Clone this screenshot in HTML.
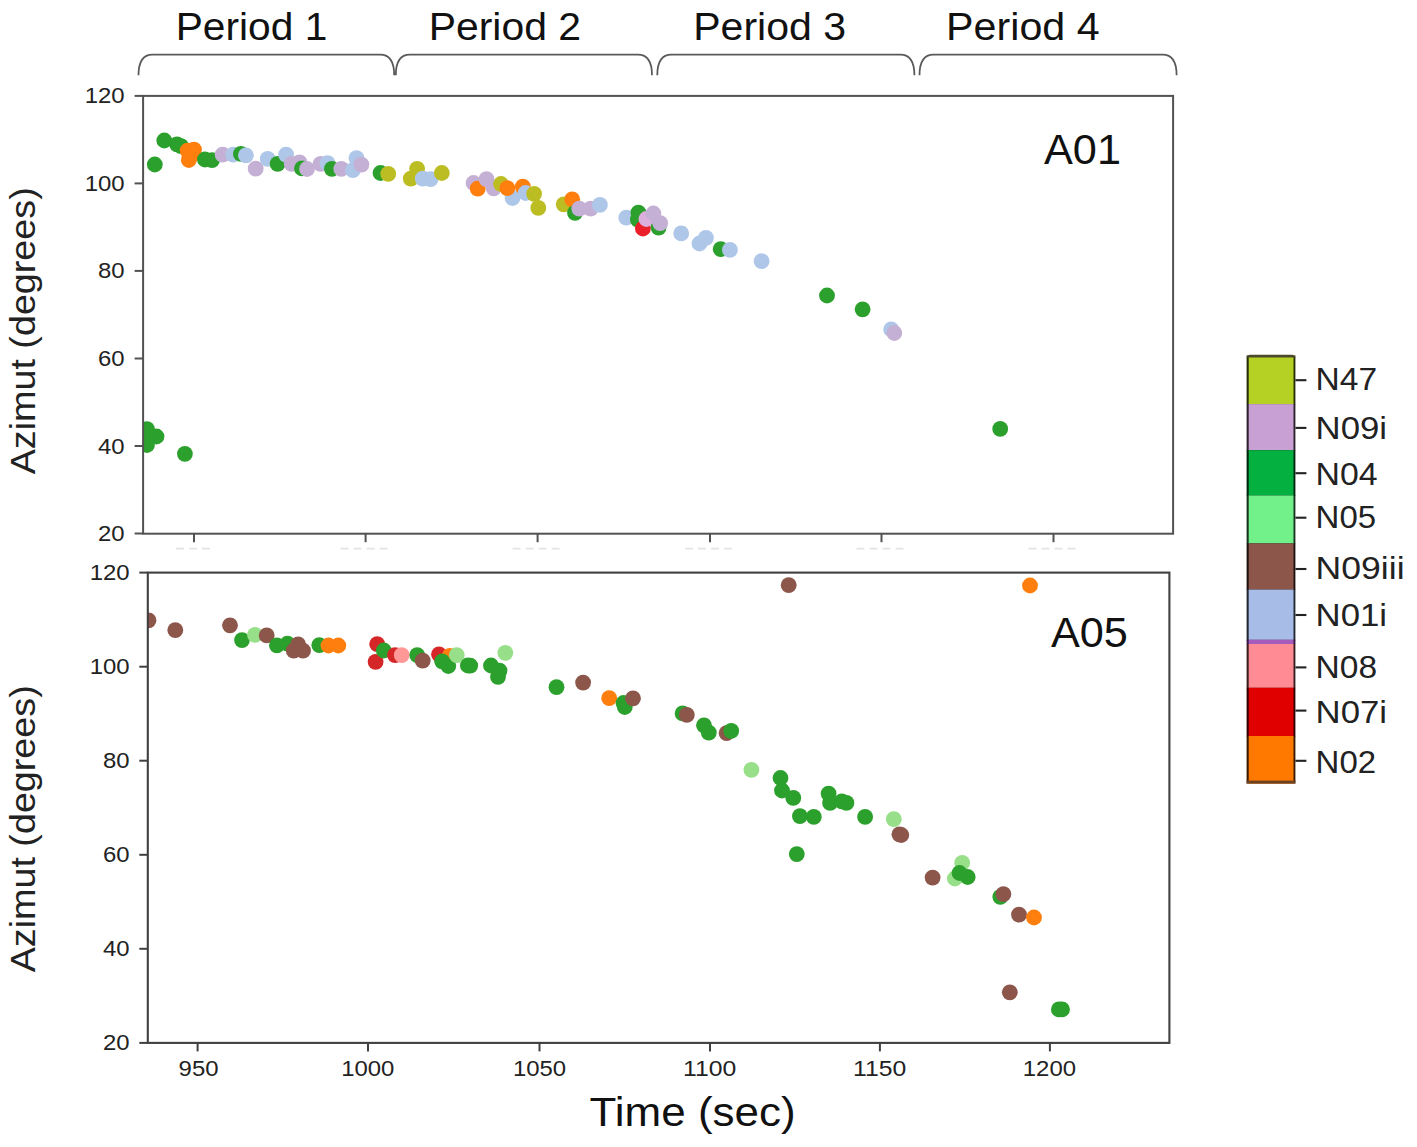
<!DOCTYPE html>
<html><head><meta charset="utf-8"><title>Azimut vs Time</title>
<style>html,body{margin:0;padding:0;background:#fff;}body{width:1417px;height:1147px;overflow:hidden;font-family:"Liberation Sans",sans-serif;}svg{display:block}</style>
</head><body>
<svg width="1417" height="1147" viewBox="0 0 1417 1147" font-family="'Liberation Sans', sans-serif">
<rect width="1417" height="1147" fill="#ffffff"/>
<defs><clipPath id="ct"><rect x="143.1" y="95.9" width="1030.0" height="437.80000000000007"/></clipPath><clipPath id="cb"><rect x="147.8" y="572.6" width="1021.6000000000001" height="470.30000000000007"/></clipPath></defs>
<text x="175.7" y="39.7" font-size="39.0" fill="#111" textLength="151.7" lengthAdjust="spacingAndGlyphs">Period 1</text>
<text x="428.7" y="39.7" font-size="39.0" fill="#111" textLength="152.4" lengthAdjust="spacingAndGlyphs">Period 2</text>
<text x="693.2" y="39.7" font-size="39.0" fill="#111" textLength="152.9" lengthAdjust="spacingAndGlyphs">Period 3</text>
<text x="946.1" y="39.7" font-size="39.0" fill="#111" textLength="153.5" lengthAdjust="spacingAndGlyphs">Period 4</text>
<path d="M138.5 75.2 C138.5 62 142.5 54.6 152.5 54.6 L380.2 54.6 C390.2 54.6 394.2 62 394.2 75.2" fill="none" stroke="#5a5a5a" stroke-width="1.8"/>
<path d="M395.8 75.2 C395.8 62 399.8 54.6 409.8 54.6 L638.0 54.6 C648.0 54.6 652.0 62 652.0 75.2" fill="none" stroke="#5a5a5a" stroke-width="1.8"/>
<path d="M657.3 75.2 C657.3 62 661.3 54.6 671.3 54.6 L900.4 54.6 C910.4 54.6 914.4 62 914.4 75.2" fill="none" stroke="#5a5a5a" stroke-width="1.8"/>
<path d="M919.5 75.2 C919.5 62 923.5 54.6 933.5 54.6 L1162.6 54.6 C1172.6 54.6 1176.6 62 1176.6 75.2" fill="none" stroke="#5a5a5a" stroke-width="1.8"/>
<g clip-path="url(#ct)">
<circle cx="154.8" cy="164.5" r="7.9" fill="#2ca02c"/>
<circle cx="164.3" cy="140.5" r="7.9" fill="#2ca02c"/>
<circle cx="177" cy="144.3" r="7.9" fill="#2ca02c"/>
<circle cx="181" cy="146.2" r="7.9" fill="#2ca02c"/>
<circle cx="187.6" cy="150.6" r="7.9" fill="#ff7f0e"/>
<circle cx="194.0" cy="149.6" r="7.9" fill="#ff7f0e"/>
<circle cx="192.3" cy="155.0" r="7.9" fill="#ff7f0e"/>
<circle cx="188.8" cy="160.0" r="7.9" fill="#ff7f0e"/>
<circle cx="204.9" cy="159.5" r="7.9" fill="#2ca02c"/>
<circle cx="212" cy="160.2" r="7.9" fill="#2ca02c"/>
<circle cx="222.6" cy="154.6" r="7.9" fill="#c5b0d5"/>
<circle cx="233.2" cy="154.6" r="7.9" fill="#aec7e8"/>
<circle cx="240.9" cy="153.9" r="7.9" fill="#2ca02c"/>
<circle cx="245.9" cy="155.3" r="7.9" fill="#aec7e8"/>
<circle cx="255.7" cy="168.7" r="7.9" fill="#c5b0d5"/>
<circle cx="267.7" cy="158.8" r="7.9" fill="#aec7e8"/>
<circle cx="277.6" cy="163.8" r="7.9" fill="#2ca02c"/>
<circle cx="286.1" cy="154.6" r="7.9" fill="#aec7e8"/>
<circle cx="291.7" cy="163.8" r="7.9" fill="#c5b0d5"/>
<circle cx="299.5" cy="162.3" r="7.9" fill="#c5b0d5"/>
<circle cx="302.0" cy="168.4" r="7.9" fill="#2ca02c"/>
<circle cx="307.0" cy="169.0" r="7.9" fill="#c5b0d5"/>
<circle cx="320.6" cy="163.8" r="7.9" fill="#c5b0d5"/>
<circle cx="327.5" cy="163.2" r="7.9" fill="#aec7e8"/>
<circle cx="331.9" cy="168.8" r="7.9" fill="#2ca02c"/>
<circle cx="341.3" cy="168.8" r="7.9" fill="#c5b0d5"/>
<circle cx="352.9" cy="170.2" r="7.9" fill="#aec7e8"/>
<circle cx="356.5" cy="158.2" r="7.9" fill="#aec7e8"/>
<circle cx="361.4" cy="164.6" r="7.9" fill="#c5b0d5"/>
<circle cx="380.5" cy="173" r="7.9" fill="#2ca02c"/>
<circle cx="388.2" cy="173.8" r="7.9" fill="#bcbd22"/>
<circle cx="410.8" cy="178.7" r="7.9" fill="#bcbd22"/>
<circle cx="417.1" cy="168.8" r="7.9" fill="#bcbd22"/>
<circle cx="422.8" cy="178.7" r="7.9" fill="#aec7e8"/>
<circle cx="430.6" cy="179.1" r="7.9" fill="#aec7e8"/>
<circle cx="441.8" cy="173" r="7.9" fill="#bcbd22"/>
<circle cx="473.5" cy="183.0" r="7.9" fill="#c5b0d5"/>
<circle cx="477.7" cy="188.7" r="7.9" fill="#ff7f0e"/>
<circle cx="486.5" cy="179.1" r="7.9" fill="#c5b0d5"/>
<circle cx="493.6" cy="188.3" r="7.9" fill="#c5b0d5"/>
<circle cx="501.0" cy="184.0" r="7.9" fill="#bcbd22"/>
<circle cx="512.5" cy="198" r="7.9" fill="#aec7e8"/>
<circle cx="507.3" cy="188.1" r="7.9" fill="#ff7f0e"/>
<circle cx="522.8" cy="186.7" r="7.9" fill="#ff7f0e"/>
<circle cx="525.6" cy="193" r="7.9" fill="#aec7e8"/>
<circle cx="534.1" cy="193.8" r="7.9" fill="#bcbd22"/>
<circle cx="538.3" cy="207.9" r="7.9" fill="#bcbd22"/>
<circle cx="563.7" cy="204.3" r="7.9" fill="#bcbd22"/>
<circle cx="572.2" cy="199.4" r="7.9" fill="#ff7f0e"/>
<circle cx="575" cy="212.8" r="7.9" fill="#2ca02c"/>
<circle cx="579.3" cy="208.6" r="7.9" fill="#c5b0d5"/>
<circle cx="590.6" cy="208.6" r="7.9" fill="#c5b0d5"/>
<circle cx="599.9" cy="204.9" r="7.9" fill="#aec7e8"/>
<circle cx="626.3" cy="217.7" r="7.9" fill="#aec7e8"/>
<circle cx="638.4" cy="212.6" r="7.9" fill="#2ca02c"/>
<circle cx="637.9" cy="219.6" r="7.9" fill="#2ca02c"/>
<circle cx="642.9" cy="228.5" r="7.9" fill="#ea1f29"/>
<circle cx="646.4" cy="219.0" r="7.9" fill="#dcaedc"/>
<circle cx="653.4" cy="213.5" r="7.9" fill="#c5b0d5"/>
<circle cx="658.6" cy="227.6" r="7.9" fill="#2ca02c"/>
<circle cx="660.2" cy="223.2" r="7.9" fill="#c5b0d5"/>
<circle cx="681.2" cy="233.4" r="7.9" fill="#aec7e8"/>
<circle cx="699.5" cy="243.5" r="7.9" fill="#aec7e8"/>
<circle cx="705.9" cy="237.9" r="7.9" fill="#aec7e8"/>
<circle cx="720.7" cy="249.2" r="7.9" fill="#2ca02c"/>
<circle cx="729.9" cy="249.9" r="7.9" fill="#aec7e8"/>
<circle cx="761.6" cy="261.2" r="7.9" fill="#aec7e8"/>
<circle cx="827" cy="295.5" r="7.9" fill="#2ca02c"/>
<circle cx="862.6" cy="309.3" r="7.9" fill="#2ca02c"/>
<circle cx="891.2" cy="329.4" r="7.9" fill="#aec7e8"/>
<circle cx="894.3" cy="333" r="7.9" fill="#c5b0d5"/>
<circle cx="1000.2" cy="428.9" r="7.9" fill="#2ca02c"/>
<circle cx="147" cy="429.1" r="7.9" fill="#2ca02c"/>
<circle cx="148.5" cy="437" r="7.9" fill="#2ca02c"/>
<circle cx="156.5" cy="436.5" r="7.9" fill="#2ca02c"/>
<circle cx="147" cy="445" r="7.9" fill="#2ca02c"/>
<circle cx="184.9" cy="453.8" r="7.9" fill="#2ca02c"/>
</g><g clip-path="url(#cb)">
<circle cx="148.5" cy="620.3" r="7.9" fill="#8c564b"/>
<circle cx="175.3" cy="630.2" r="7.9" fill="#8c564b"/>
<circle cx="230" cy="625.3" r="7.9" fill="#8c564b"/>
<circle cx="242" cy="640.1" r="7.9" fill="#2ca02c"/>
<circle cx="255" cy="634.9" r="7.9" fill="#98df8a"/>
<circle cx="266.7" cy="635.4" r="7.9" fill="#8c564b"/>
<circle cx="276.9" cy="645.3" r="7.9" fill="#2ca02c"/>
<circle cx="287.5" cy="643.6" r="7.9" fill="#2ca02c"/>
<circle cx="298.1" cy="644.3" r="7.9" fill="#8c564b"/>
<circle cx="293.8" cy="650.7" r="7.9" fill="#8c564b"/>
<circle cx="303" cy="650.7" r="7.9" fill="#8c564b"/>
<circle cx="319.3" cy="645.2" r="7.9" fill="#2ca02c"/>
<circle cx="328.5" cy="645.5" r="7.9" fill="#ff7f0e"/>
<circle cx="338.3" cy="645.5" r="7.9" fill="#ff7f0e"/>
<circle cx="377.2" cy="644.2" r="7.9" fill="#d62728"/>
<circle cx="375.6" cy="661.8" r="7.9" fill="#d62728"/>
<circle cx="383.8" cy="650.5" r="7.9" fill="#2ca02c"/>
<circle cx="395" cy="655.1" r="7.9" fill="#d62728"/>
<circle cx="401.7" cy="655.1" r="7.9" fill="#ff9896"/>
<circle cx="417.2" cy="655.1" r="7.9" fill="#2ca02c"/>
<circle cx="422.7" cy="660.6" r="7.9" fill="#8c564b"/>
<circle cx="439" cy="654.3" r="7.9" fill="#d62728"/>
<circle cx="449.8" cy="655.9" r="7.9" fill="#ff7f0e"/>
<circle cx="442.1" cy="661.3" r="7.9" fill="#2ca02c"/>
<circle cx="448.3" cy="666" r="7.9" fill="#2ca02c"/>
<circle cx="456.8" cy="655.1" r="7.9" fill="#98df8a"/>
<circle cx="467.9" cy="665.5" r="7.9" fill="#2ca02c"/>
<circle cx="470.2" cy="665.6" r="7.9" fill="#2ca02c"/>
<circle cx="491" cy="665.5" r="7.9" fill="#2ca02c"/>
<circle cx="499.5" cy="670.6" r="7.9" fill="#2ca02c"/>
<circle cx="498" cy="676.9" r="7.9" fill="#2ca02c"/>
<circle cx="505.3" cy="652.8" r="7.9" fill="#98df8a"/>
<circle cx="556.5" cy="687.2" r="7.9" fill="#2ca02c"/>
<circle cx="583.1" cy="682.6" r="7.9" fill="#8c564b"/>
<circle cx="609.2" cy="698.2" r="7.9" fill="#ff7f0e"/>
<circle cx="623.5" cy="703" r="7.9" fill="#2ca02c"/>
<circle cx="624.8" cy="707" r="7.9" fill="#2ca02c"/>
<circle cx="633" cy="698.3" r="7.9" fill="#8c564b"/>
<circle cx="682.6" cy="713.4" r="7.9" fill="#2ca02c"/>
<circle cx="686.8" cy="714.9" r="7.9" fill="#8c564b"/>
<circle cx="704" cy="725.3" r="7.9" fill="#2ca02c"/>
<circle cx="708.8" cy="732.7" r="7.9" fill="#2ca02c"/>
<circle cx="726.6" cy="733.2" r="7.9" fill="#8c564b"/>
<circle cx="731.2" cy="730.8" r="7.9" fill="#2ca02c"/>
<circle cx="751.4" cy="769.8" r="7.9" fill="#98df8a"/>
<circle cx="780.5" cy="778" r="7.9" fill="#2ca02c"/>
<circle cx="782" cy="790.5" r="7.9" fill="#2ca02c"/>
<circle cx="793.3" cy="797.9" r="7.9" fill="#2ca02c"/>
<circle cx="799.9" cy="816.1" r="7.9" fill="#2ca02c"/>
<circle cx="813.8" cy="816.9" r="7.9" fill="#2ca02c"/>
<circle cx="828.6" cy="793.6" r="7.9" fill="#2ca02c"/>
<circle cx="830.1" cy="802.9" r="7.9" fill="#2ca02c"/>
<circle cx="841.8" cy="801.3" r="7.9" fill="#2ca02c"/>
<circle cx="846.4" cy="802.9" r="7.9" fill="#2ca02c"/>
<circle cx="865.1" cy="816.9" r="7.9" fill="#2ca02c"/>
<circle cx="893.8" cy="819.2" r="7.9" fill="#98df8a"/>
<circle cx="899.4" cy="834.3" r="7.9" fill="#8c564b"/>
<circle cx="901.3" cy="835.0" r="7.9" fill="#8c564b"/>
<circle cx="796.8" cy="854.1" r="7.9" fill="#2ca02c"/>
<circle cx="788.7" cy="585.2" r="7.9" fill="#8c564b"/>
<circle cx="1030" cy="585.5" r="7.9" fill="#ff7f0e"/>
<circle cx="932.6" cy="877.6" r="7.9" fill="#8c564b"/>
<circle cx="954.9" cy="878.5" r="7.9" fill="#98df8a"/>
<circle cx="962.2" cy="862.9" r="7.9" fill="#98df8a"/>
<circle cx="959.5" cy="873" r="7.9" fill="#2ca02c"/>
<circle cx="967.7" cy="877" r="7.9" fill="#2ca02c"/>
<circle cx="1000.3" cy="896.8" r="7.9" fill="#2ca02c"/>
<circle cx="1003.4" cy="894.1" r="7.9" fill="#8c564b"/>
<circle cx="1019" cy="914.6" r="7.9" fill="#8c564b"/>
<circle cx="1034" cy="917.5" r="7.9" fill="#ff7f0e"/>
<circle cx="1009.8" cy="992.3" r="7.9" fill="#8c564b"/>
<circle cx="1058.9" cy="1009.4" r="7.9" fill="#2ca02c"/>
<circle cx="1062" cy="1009.4" r="7.9" fill="#2ca02c"/>
</g>
<rect x="143.1" y="95.9" width="1030.0" height="437.80000000000007" fill="none" stroke="#525252" stroke-width="2.0"/>
<rect x="147.8" y="572.6" width="1021.6000000000001" height="470.30000000000007" fill="none" stroke="#404040" stroke-width="2.1"/>
<line x1="194.0" y1="533.7" x2="194.0" y2="542.2" stroke="#525252" stroke-width="2"/>
<line x1="365.6" y1="533.7" x2="365.6" y2="542.2" stroke="#525252" stroke-width="2"/>
<line x1="537.6" y1="533.7" x2="537.6" y2="542.2" stroke="#525252" stroke-width="2"/>
<line x1="710.0" y1="533.7" x2="710.0" y2="542.2" stroke="#525252" stroke-width="2"/>
<line x1="881.5" y1="533.7" x2="881.5" y2="542.2" stroke="#525252" stroke-width="2"/>
<line x1="1053.5" y1="533.7" x2="1053.5" y2="542.2" stroke="#525252" stroke-width="2"/>
<line x1="134.6" y1="95.9" x2="143.1" y2="95.9" stroke="#525252" stroke-width="2"/>
<line x1="134.6" y1="183.4" x2="143.1" y2="183.4" stroke="#525252" stroke-width="2"/>
<line x1="134.6" y1="270.9" x2="143.1" y2="270.9" stroke="#525252" stroke-width="2"/>
<line x1="134.6" y1="358.5" x2="143.1" y2="358.5" stroke="#525252" stroke-width="2"/>
<line x1="134.6" y1="446.0" x2="143.1" y2="446.0" stroke="#525252" stroke-width="2"/>
<line x1="134.6" y1="533.5" x2="143.1" y2="533.5" stroke="#525252" stroke-width="2"/>
<line x1="197.6" y1="1042.9" x2="197.6" y2="1051.4" stroke="#404040" stroke-width="2"/>
<line x1="368.0" y1="1042.9" x2="368.0" y2="1051.4" stroke="#404040" stroke-width="2"/>
<line x1="539.5" y1="1042.9" x2="539.5" y2="1051.4" stroke="#404040" stroke-width="2"/>
<line x1="710.0" y1="1042.9" x2="710.0" y2="1051.4" stroke="#404040" stroke-width="2"/>
<line x1="879.9" y1="1042.9" x2="879.9" y2="1051.4" stroke="#404040" stroke-width="2"/>
<line x1="1049.9" y1="1042.9" x2="1049.9" y2="1051.4" stroke="#404040" stroke-width="2"/>
<line x1="139.3" y1="572.6" x2="147.8" y2="572.6" stroke="#404040" stroke-width="2"/>
<line x1="139.3" y1="666.7" x2="147.8" y2="666.7" stroke="#404040" stroke-width="2"/>
<line x1="139.3" y1="760.7" x2="147.8" y2="760.7" stroke="#404040" stroke-width="2"/>
<line x1="139.3" y1="854.8" x2="147.8" y2="854.8" stroke="#404040" stroke-width="2"/>
<line x1="139.3" y1="948.8" x2="147.8" y2="948.8" stroke="#404040" stroke-width="2"/>
<line x1="139.3" y1="1042.9" x2="147.8" y2="1042.9" stroke="#404040" stroke-width="2"/>
<line x1="176.0" y1="548.6" x2="212.0" y2="548.6" stroke="#e4e4e4" stroke-width="1.6" stroke-dasharray="8 5"/>
<line x1="340.6" y1="548.6" x2="390.6" y2="548.6" stroke="#e4e4e4" stroke-width="1.6" stroke-dasharray="8 5"/>
<line x1="512.6" y1="548.6" x2="562.6" y2="548.6" stroke="#e4e4e4" stroke-width="1.6" stroke-dasharray="8 5"/>
<line x1="685.0" y1="548.6" x2="735.0" y2="548.6" stroke="#e4e4e4" stroke-width="1.6" stroke-dasharray="8 5"/>
<line x1="856.5" y1="548.6" x2="906.5" y2="548.6" stroke="#e4e4e4" stroke-width="1.6" stroke-dasharray="8 5"/>
<line x1="1028.5" y1="548.6" x2="1078.5" y2="548.6" stroke="#e4e4e4" stroke-width="1.6" stroke-dasharray="8 5"/>
<text x="84.7" y="103.4" font-size="22.6" fill="#222" textLength="39.9" lengthAdjust="spacingAndGlyphs">120</text>
<text x="84.7" y="190.9" font-size="22.6" fill="#222" textLength="39.9" lengthAdjust="spacingAndGlyphs">100</text>
<text x="98.0" y="278.4" font-size="22.6" fill="#222" textLength="26.6" lengthAdjust="spacingAndGlyphs">80</text>
<text x="98.0" y="366.0" font-size="22.6" fill="#222" textLength="26.6" lengthAdjust="spacingAndGlyphs">60</text>
<text x="98.0" y="453.5" font-size="22.6" fill="#222" textLength="26.6" lengthAdjust="spacingAndGlyphs">40</text>
<text x="98.0" y="541.0" font-size="22.6" fill="#222" textLength="26.6" lengthAdjust="spacingAndGlyphs">20</text>
<text x="89.7" y="580.1" font-size="22.6" fill="#222" textLength="39.9" lengthAdjust="spacingAndGlyphs">120</text>
<text x="89.7" y="674.2" font-size="22.6" fill="#222" textLength="39.9" lengthAdjust="spacingAndGlyphs">100</text>
<text x="103.0" y="768.2" font-size="22.6" fill="#222" textLength="26.6" lengthAdjust="spacingAndGlyphs">80</text>
<text x="103.0" y="862.3" font-size="22.6" fill="#222" textLength="26.6" lengthAdjust="spacingAndGlyphs">60</text>
<text x="103.0" y="956.3" font-size="22.6" fill="#222" textLength="26.6" lengthAdjust="spacingAndGlyphs">40</text>
<text x="103.0" y="1050.4" font-size="22.6" fill="#222" textLength="26.6" lengthAdjust="spacingAndGlyphs">20</text>
<text x="178.6" y="1075.8" font-size="22.6" fill="#222" textLength="39.9" lengthAdjust="spacingAndGlyphs">950</text>
<text x="341.2" y="1075.8" font-size="22.6" fill="#222" textLength="53.2" lengthAdjust="spacingAndGlyphs">1000</text>
<text x="512.9" y="1075.8" font-size="22.6" fill="#222" textLength="53.2" lengthAdjust="spacingAndGlyphs">1050</text>
<text x="683.0" y="1075.8" font-size="22.6" fill="#222" textLength="53.2" lengthAdjust="spacingAndGlyphs">1100</text>
<text x="853.1" y="1075.8" font-size="22.6" fill="#222" textLength="53.2" lengthAdjust="spacingAndGlyphs">1150</text>
<text x="1022.8" y="1075.8" font-size="22.6" fill="#222" textLength="53.2" lengthAdjust="spacingAndGlyphs">1200</text>
<text transform="translate(35.0,474.3) rotate(-90)" font-size="35" fill="#222" textLength="287" lengthAdjust="spacingAndGlyphs">Azimut (degrees)</text>
<text transform="translate(35.0,972.3) rotate(-90)" font-size="35" fill="#222" textLength="287" lengthAdjust="spacingAndGlyphs">Azimut (degrees)</text>
<text x="589.6" y="1125.5" font-size="40.8" fill="#111" textLength="206" lengthAdjust="spacingAndGlyphs">Time (sec)</text>
<text x="1044.0" y="164.4" font-size="42.4" fill="#111" textLength="77" lengthAdjust="spacingAndGlyphs">A01</text>
<text x="1050.9" y="647.2" font-size="42.6" fill="#111" textLength="77" lengthAdjust="spacingAndGlyphs">A05</text>
<rect x="1246.6" y="355.5" width="48.8" height="49.1" fill="#272d07"/>
<rect x="1248.7" y="355.5" width="44.8" height="49.1" fill="#b5d123"/>
<rect x="1246.6" y="404.1" width="48.8" height="46.6" fill="#2c232e"/>
<rect x="1248.7" y="404.1" width="44.8" height="46.6" fill="#c9a0d4"/>
<rect x="1246.6" y="450.2" width="48.8" height="45.8" fill="#00260e"/>
<rect x="1248.7" y="450.2" width="44.8" height="45.8" fill="#04b040"/>
<rect x="1246.6" y="495.5" width="48.8" height="48.4" fill="#19341e"/>
<rect x="1248.7" y="495.5" width="44.8" height="48.4" fill="#72f08a"/>
<rect x="1246.6" y="543.4" width="48.8" height="46.7" fill="#1e1210"/>
<rect x="1248.7" y="543.4" width="44.8" height="46.7" fill="#8c564b"/>
<rect x="1246.6" y="589.6" width="48.8" height="50.9" fill="#242933"/>
<rect x="1248.7" y="589.6" width="44.8" height="50.9" fill="#a8bce8"/>
<rect x="1246.6" y="643.8" width="48.8" height="44.5" fill="#381e20"/>
<rect x="1248.7" y="643.8" width="44.8" height="44.5" fill="#ff8c94"/>
<rect x="1246.6" y="687.8" width="48.8" height="48.7" fill="#310000"/>
<rect x="1248.7" y="687.8" width="44.8" height="48.7" fill="#e00000"/>
<rect x="1246.6" y="736.0" width="48.8" height="47.5" fill="#381a00"/>
<rect x="1248.7" y="736.0" width="44.8" height="47.5" fill="#ff7800"/>
<rect x="1246.6" y="639.8" width="48.8" height="4.2" fill="#3a1848"/>
<rect x="1248.7" y="639.8" width="44.8" height="4.2" fill="#a65cbc"/>
<path d="M1246.6 358.5 Q1246.6 354.8 1250 354.8 L1292 354.8 Q1295.4 354.8 1295.4 358.5 L1295.4 357.6 L1246.6 357.6 Z" fill="#4a4a2c"/>
<rect x="1246.6" y="780.6" width="48.8" height="2.9" fill="#6e4220"/>
<line x1="1295.4" y1="380.2" x2="1306.4" y2="380.2" stroke="#222" stroke-width="2.1"/>
<text x="1315.6" y="389.9" font-size="31.2" fill="#222" textLength="61.5" lengthAdjust="spacingAndGlyphs">N47</text>
<line x1="1295.4" y1="427.9" x2="1306.4" y2="427.9" stroke="#222" stroke-width="2.1"/>
<text x="1315.6" y="439.2" font-size="31.2" fill="#222" textLength="71.5" lengthAdjust="spacingAndGlyphs">N09i</text>
<line x1="1295.4" y1="473.2" x2="1306.4" y2="473.2" stroke="#222" stroke-width="2.1"/>
<text x="1315.6" y="485.3" font-size="31.2" fill="#222" textLength="62.0" lengthAdjust="spacingAndGlyphs">N04</text>
<line x1="1295.4" y1="517.7" x2="1306.4" y2="517.7" stroke="#222" stroke-width="2.1"/>
<text x="1315.6" y="528.4" font-size="31.2" fill="#222" textLength="60.5" lengthAdjust="spacingAndGlyphs">N05</text>
<line x1="1295.4" y1="569.0" x2="1306.4" y2="569.0" stroke="#222" stroke-width="2.1"/>
<text x="1315.6" y="579.2" font-size="31.2" fill="#222" textLength="89.0" lengthAdjust="spacingAndGlyphs">N09iii</text>
<line x1="1295.4" y1="615.0" x2="1306.4" y2="615.0" stroke="#222" stroke-width="2.1"/>
<text x="1315.6" y="626.0" font-size="31.2" fill="#222" textLength="71.5" lengthAdjust="spacingAndGlyphs">N01i</text>
<line x1="1295.4" y1="667.4" x2="1306.4" y2="667.4" stroke="#222" stroke-width="2.1"/>
<text x="1315.6" y="677.7" font-size="31.2" fill="#222" textLength="61.5" lengthAdjust="spacingAndGlyphs">N08</text>
<line x1="1295.4" y1="710.6" x2="1306.4" y2="710.6" stroke="#222" stroke-width="2.1"/>
<text x="1315.6" y="722.8" font-size="31.2" fill="#222" textLength="71.5" lengthAdjust="spacingAndGlyphs">N07i</text>
<line x1="1295.4" y1="760.8" x2="1306.4" y2="760.8" stroke="#222" stroke-width="2.1"/>
<text x="1315.6" y="773.2" font-size="31.2" fill="#222" textLength="60.5" lengthAdjust="spacingAndGlyphs">N02</text>
</svg>
</body></html>
